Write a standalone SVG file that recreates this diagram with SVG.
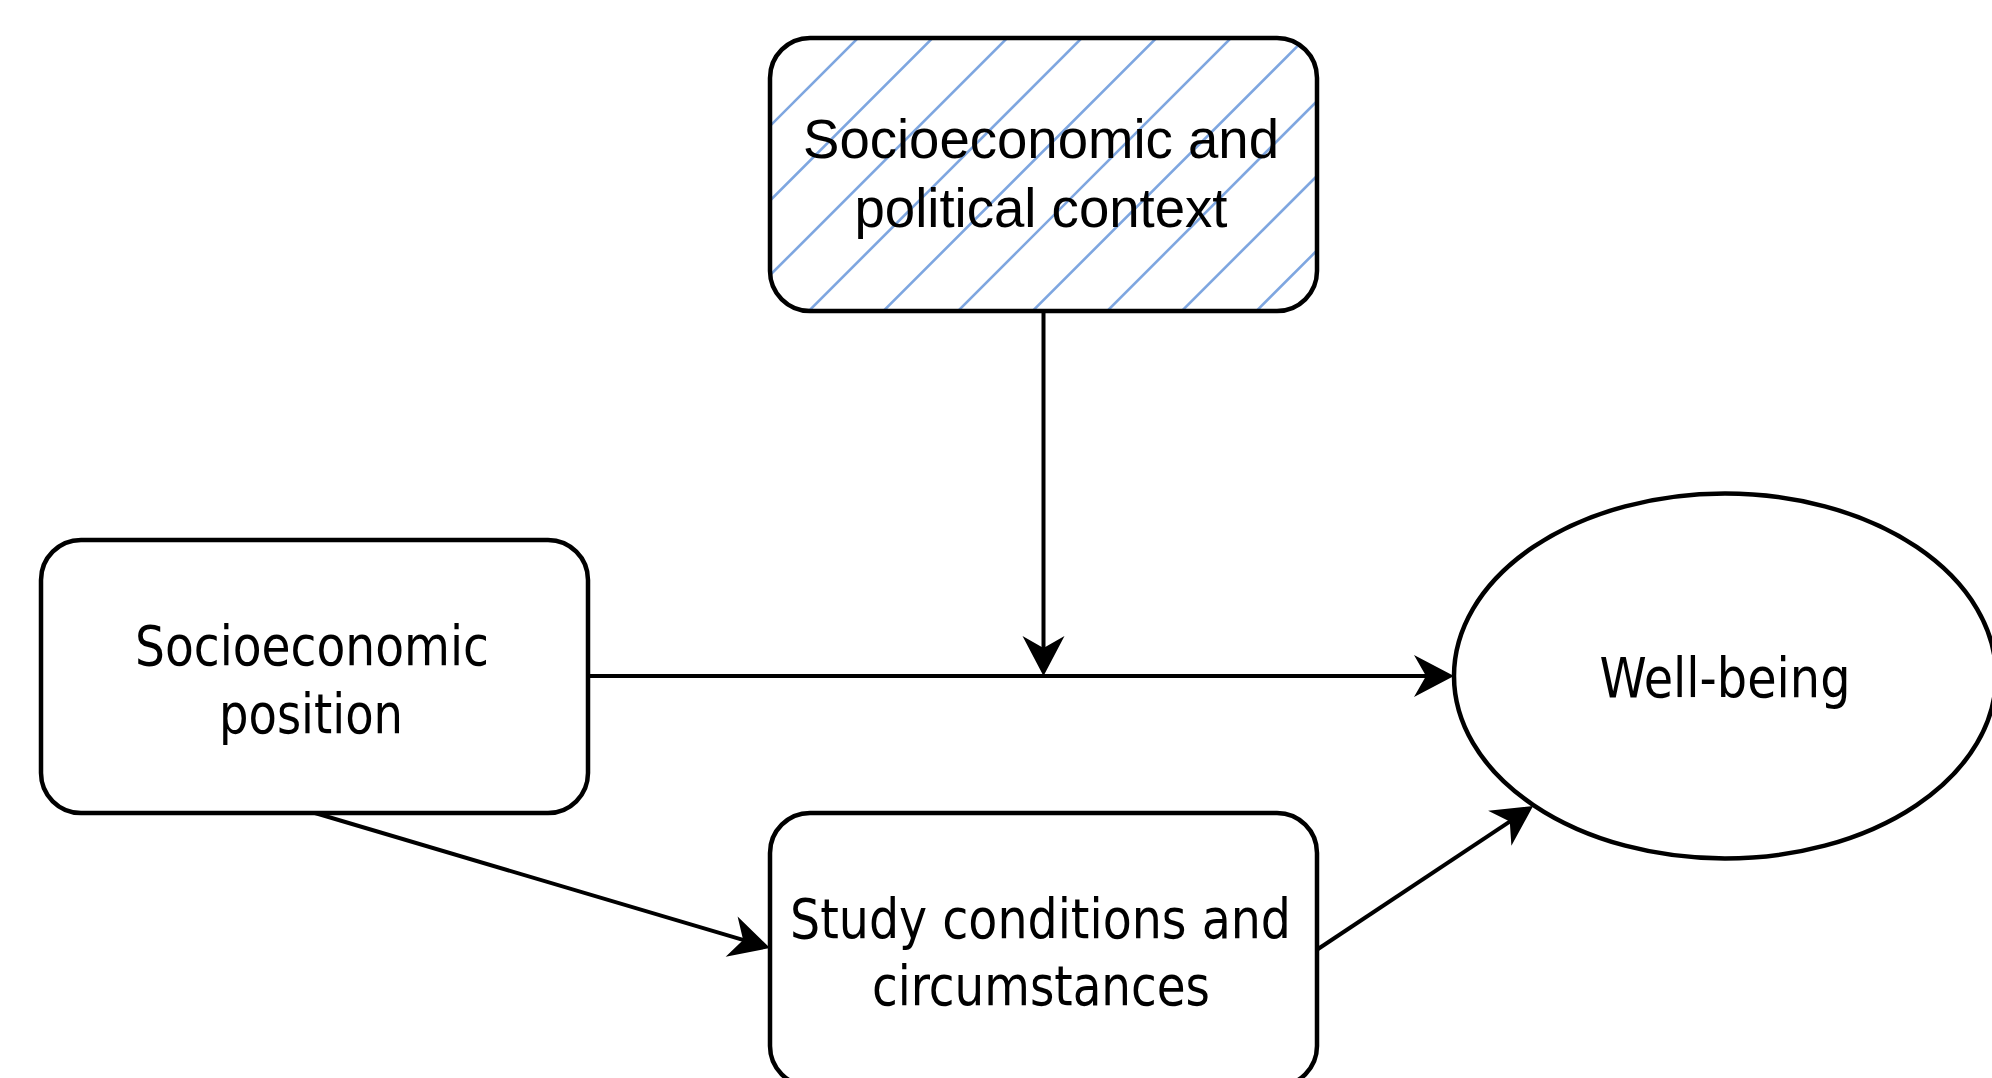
<svg xmlns="http://www.w3.org/2000/svg" width="1992" height="1078" viewBox="0 0 1992 1078">
  <style>
    .box { fill: #ffffff; stroke: #000000; stroke-width: 4.5; }
    .hatch line { stroke: #7EA6E0; stroke-width: 2.6; }
    .conn { fill: none; stroke: #000000; stroke-width: 4; }
    .arial { font-family: "Liberation Sans", Arial, sans-serif; font-size: 56px; fill: #000000; text-anchor: middle; }
    .tah { font-family: "DejaVu Sans Condensed", "DejaVu Sans", sans-serif; font-stretch: condensed; font-size: 56px; fill: #000000; text-anchor: middle; }
  </style>
  <defs>
    <marker id="arrow" markerUnits="userSpaceOnUse" viewBox="-26 -23 44 46" markerWidth="44" markerHeight="46" refX="0" refY="0" orient="auto" overflow="visible">
      <path d="M15,0 L-25,-21 L-13,0 L-25,21 Z" fill="#000000"/>
    </marker>
    <clipPath id="topclip">
      <rect x="770" y="38" width="547" height="273" rx="40" ry="40"/>
    </clipPath>
  </defs>
  <rect width="1992" height="1078" fill="#ffffff"/>

  <g id="connectors">
    <path class="conn" d="M1043.5,311 L1043.5,661" marker-end="url(#arrow)"/>
    <path class="conn" d="M588,676 L1439,676" marker-end="url(#arrow)"/>
    <path class="conn" d="M315,813 L755.6,943.7" marker-end="url(#arrow)"/>
    <path class="conn" d="M1318,949 L1520.6,814.4" marker-end="url(#arrow)"/>
  </g>

  <g id="node-context">
    <rect x="770" y="38" width="547" height="273" rx="40" ry="40" fill="#ffffff"/>
    <g class="hatch" clip-path="url(#topclip)">
      <line x1="491.4" y1="330" x2="801.4" y2="20"/>
      <line x1="566" y1="330" x2="876" y2="20"/>
      <line x1="640.6" y1="330" x2="950.6" y2="20"/>
      <line x1="715.2" y1="330" x2="1025.2" y2="20"/>
      <line x1="789.8" y1="330" x2="1099.8" y2="20"/>
      <line x1="864.4" y1="330" x2="1174.4" y2="20"/>
      <line x1="939" y1="330" x2="1249" y2="20"/>
      <line x1="1013.6" y1="330" x2="1323.6" y2="20"/>
      <line x1="1088.2" y1="330" x2="1398.2" y2="20"/>
      <line x1="1162.8" y1="330" x2="1472.8" y2="20"/>
      <line x1="1237.4" y1="330" x2="1547.4" y2="20"/>
    </g>
    <rect x="770" y="38" width="547" height="273" rx="40" ry="40" fill="none" stroke="#000000" stroke-width="4.5"/>
    <text class="arial" x="1041" y="158" textLength="476" lengthAdjust="spacingAndGlyphs">Socioeconomic and</text>
    <text class="arial" x="1041" y="227" textLength="373" lengthAdjust="spacingAndGlyphs">political context</text>
  </g>

  <g id="node-sep">
    <rect class="box" x="41" y="540" width="547" height="273" rx="40" ry="40"/>
    <text class="tah" x="312" y="665" textLength="354" lengthAdjust="spacingAndGlyphs">Socioeconomic</text>
    <text class="tah" x="311" y="733" textLength="184" lengthAdjust="spacingAndGlyphs">position</text>
  </g>

  <g id="node-study">
    <rect class="box" x="770" y="813" width="547" height="273" rx="40" ry="40"/>
    <text class="tah" x="1040.5" y="938" textLength="501" lengthAdjust="spacingAndGlyphs">Study conditions and</text>
    <text class="tah" x="1041" y="1005" textLength="338" lengthAdjust="spacingAndGlyphs">circumstances</text>
  </g>

  <g id="node-wellbeing">
    <ellipse class="box" cx="1725" cy="676" rx="271" ry="182.5"/>
    <text class="tah" x="1725" y="697" textLength="251" lengthAdjust="spacingAndGlyphs">Well-being</text>
  </g>
</svg>
